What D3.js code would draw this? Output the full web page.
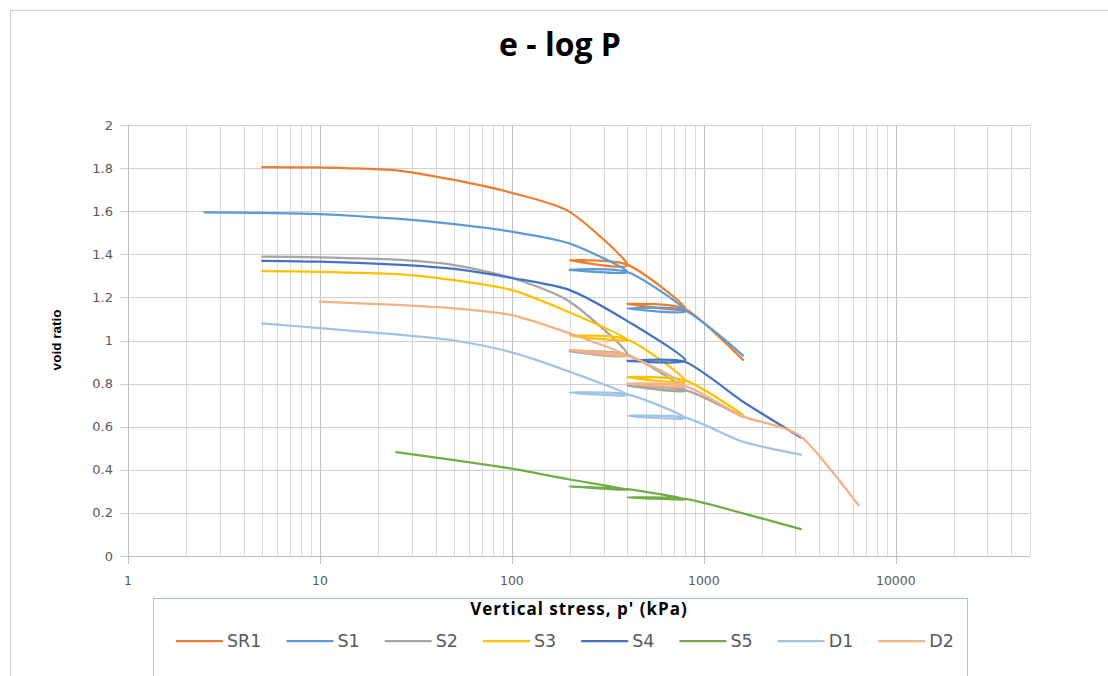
<!DOCTYPE html>
<html>
<head>
<meta charset="utf-8">
<script src="https://cdn.jsdelivr.net/npm/d3@7"></script>
<style>
  body { margin: 0; background: #fff; }
  svg { display: block; }
</style>
</head>
<body>
<svg></svg>
<script>
const width = 1108;
const height = 676;

// series names and the order of the legend
const seriesNames = ['SR1', 'S1', 'S2', 'S3', 'S4', 'S5', 'D1', 'D2'];
const seriesColors = ['#ED7D31', '#5B9BD5', '#A5A5A5', '#FFC000', '#4472C4', '#70AD47', '#9DC3E6', '#F4B183'];

// vertical stress p' (kPa), load - unload - reload steps
const pSR1 = [5, 10, 25, 50, 100, 200, 400, 200, 400, 800, 400, 800, 1600];
const pS1 = [2.5, 5, 10, 25, 50, 100, 200, 400, 200, 400, 800, 400, 800, 1600];
const pS2 = [5, 10, 25, 50, 100, 200, 400, 200, 400, 800, 400, 800, 1600];
const pS3 = [5, 10, 25, 50, 100, 200, 400, 200, 400, 800, 400, 800, 1600];
const pS4 = [5, 10, 25, 50, 100, 200, 400, 800, 400, 800, 1600, 3200];
const pS5 = [25, 50, 100, 200, 400, 200, 400, 800, 400, 800, 1600, 3200];
const pD1 = [5, 10, 25, 50, 100, 200, 400, 200, 400, 800, 400, 800, 1600, 3200];
const pD2 = [10, 25, 50, 100, 200, 400, 200, 400, 800, 400, 800, 1600, 3200, 6400];

// void ratio e
const eSR1 = [1.805, 1.803, 1.79, 1.745, 1.685, 1.597, 1.35, 1.372, 1.352, 1.148, 1.17, 1.146, 0.91];
const eS1 = [1.595, 1.592, 1.587, 1.565, 1.54, 1.505, 1.45, 1.318, 1.328, 1.318, 1.137, 1.148, 1.138, 0.93];
const eS2 = [1.389, 1.386, 1.375, 1.35, 1.29, 1.18, 0.935, 0.95, 0.933, 0.768, 0.79, 0.77, 0.645];
const eS3 = [1.322, 1.319, 1.308, 1.28, 1.234, 1.13, 1.003, 1.022, 1.005, 0.812, 0.83, 0.815, 0.655];
const eS4 = [1.37, 1.366, 1.352, 1.332, 1.29, 1.234, 1.09, 0.908, 0.905, 0.9, 0.716, 0.55];
const eS5 = [0.482, 0.445, 0.405, 0.355, 0.308, 0.322, 0.31, 0.263, 0.272, 0.265, 0.198, 0.125];
const eD1 = [1.08, 1.057, 1.028, 1.0, 0.945, 0.855, 0.748, 0.758, 0.75, 0.64, 0.65, 0.642, 0.53, 0.47];
const eD2 = [1.18, 1.165, 1.149, 1.118, 1.033, 0.928, 0.955, 0.93, 0.79, 0.8, 0.788, 0.648, 0.555, 0.235];

const yTicks = [0, 0.2, 0.4, 0.6, 0.8, 1, 1.2, 1.4, 1.6, 1.8, 2];
const xLabels = [1, 10, 100, 1000, 10000];

const stressList = [pSR1, pS1, pS2, pS3, pS4, pS5, pD1, pD2];
const ratioList = [eSR1, eS1, eS2, eS3, eS4, eS5, eD1, eD2];

const series = seriesNames.map((name, i) => ({
  name: name,
  color: seriesColors[i],
  points: stressList[i].map((p, j) => ({ p: p, e: ratioList[i][j] }))
}));

const svg = d3.select('svg')
  .attr('width', width)
  .attr('height', height);

// chart frame
svg.append('rect')
  .attr('x', 10.5)
  .attr('y', 10.5)
  .attr('width', 1200)
  .attr('height', 800)
  .attr('fill', 'none')
  .attr('stroke', '#d0d0d0');

const x = d3.scaleLog()
  .domain([1, 50000])
  .range([128, 1030]);

const y = d3.scaleLinear()
  .domain([0, 2])
  .range([556, 125]);

// vertical grid (major and minor)
const grid = svg.append('g');
grid.selectAll('line.vgrid')
  .data(x.ticks())
  .join('line')
  .attr('class', 'vgrid')
  .attr('x1', d => Math.round(x(d)) + 0.5)
  .attr('x2', d => Math.round(x(d)) + 0.5)
  .attr('y1', y(2))
  .attr('y2', y(0))
  .attr('stroke', d => xLabels.includes(d) ? '#bfbfbf' : '#d9d9d9')
  .attr('stroke-width', 1);

// horizontal grid, with outside ticks
grid.selectAll('line.hgrid')
  .data(yTicks)
  .join('line')
  .attr('class', 'hgrid')
  .attr('x1', 120)
  .attr('x2', x.range()[1])
  .attr('y1', d => Math.round(y(d)) + 0.5)
  .attr('y2', d => Math.round(y(d)) + 0.5)
  .attr('stroke', '#d0d0d0')
  .attr('stroke-width', 1);

// axis lines
svg.append('line')
  .attr('x1', 128.5).attr('x2', 128.5)
  .attr('y1', y(2)).attr('y2', y(0))
  .attr('stroke', '#bfbfbf');

svg.append('line')
  .attr('x1', 128).attr('x2', x.range()[1])
  .attr('y1', Math.round(y(0)) + 0.5).attr('y2', Math.round(y(0)) + 0.5)
  .attr('stroke', '#bfbfbf');

// major ticks under x axis
svg.selectAll('line.xtick')
  .data(xLabels)
  .join('line')
  .attr('class', 'xtick')
  .attr('x1', d => Math.round(x(d)) + 0.5)
  .attr('x2', d => Math.round(x(d)) + 0.5)
  .attr('y1', y(0))
  .attr('y2', y(0) + 8)
  .attr('stroke', '#bfbfbf');

// tick labels
svg.selectAll('text.ylab')
  .data(yTicks)
  .join('text')
  .attr('class', 'ylab')
  .attr('x', 113)
  .attr('y', d => y(d))
  .attr('dy', '0.35em')
  .attr('text-anchor', 'end')
  .style('font-family', 'DejaVu Sans, sans-serif')
  .style('font-size', '13px')
  .style('fill', '#595959')
  .text(d => d);

svg.selectAll('text.xlab')
  .data(xLabels)
  .join('text')
  .attr('class', 'xlab')
  .attr('x', d => x(d))
  .attr('y', 585)
  .attr('text-anchor', 'middle')
  .style('font-family', 'DejaVu Sans, sans-serif')
  .style('font-size', '12.5px')
  .style('fill', '#595959')
  .text(d => d);

// data lines, smoothed like the spreadsheet does
const line = d3.line()
  .x(d => x(d.p))
  .y(d => y(d.e))
  .curve(d3.curveCardinal.tension(0.3));

svg.append('g')
  .selectAll('path')
  .data(series)
  .join('path')
  .attr('d', d => line(d.points))
  .attr('fill', 'none')
  .attr('stroke', d => d.color)
  .attr('stroke-width', 2.25)
  .attr('stroke-linecap', 'round')
  .attr('stroke-linejoin', 'round');

// title
svg.append('text')
  .attr('x', 560)
  .attr('y', 56)
  .attr('text-anchor', 'middle')
  .style('font-family', 'Open Sans, sans-serif')
  .style('font-weight', 'bold')
  .style('font-size', '32px')
  .style('fill', '#000')
  .text('e - log P');

// y axis title
svg.append('text')
  .attr('transform', 'translate(61, 340) rotate(-90)')
  .attr('text-anchor', 'middle')
  .style('font-family', 'Liberation Sans, sans-serif')
  .style('font-weight', 'bold')
  .style('font-size', '13.5px')
  .style('fill', '#000')
  .text('void ratio');

// legend box
svg.append('rect')
  .attr('x', 153.5)
  .attr('y', 598.5)
  .attr('width', 814)
  .attr('height', 120)
  .attr('fill', 'none')
  .attr('stroke', '#9dc3e6');

// x axis title
svg.append('text')
  .attr('x', 579)
  .attr('y', 615)
  .attr('text-anchor', 'middle')
  .style('font-family', 'Open Sans, sans-serif')
  .style('font-weight', 'bold')
  .style('font-size', '17px')
  .style('letter-spacing', '1px')
  .style('fill', '#000')
  .text("Vertical stress, p' (kPa)");

// legend entries
const legend = svg.append('g');
let legendX = 176;
series.forEach(s => {
  legend.append('line')
    .attr('x1', legendX)
    .attr('x2', legendX + 47)
    .attr('y1', 641)
    .attr('y2', 641)
    .attr('stroke', s.color)
    .attr('stroke-width', 2.25);
  const label = legend.append('text')
    .attr('x', legendX + 51)
    .attr('y', 641)
    .attr('dy', '0.36em')
    .style('font-family', 'DejaVu Sans, sans-serif')
    .style('font-size', '17.5px')
    .style('fill', '#595959')
    .text(s.name);
  legendX += 51 + label.node().getComputedTextLength() + 25;
});
</script>
</body>
</html>
